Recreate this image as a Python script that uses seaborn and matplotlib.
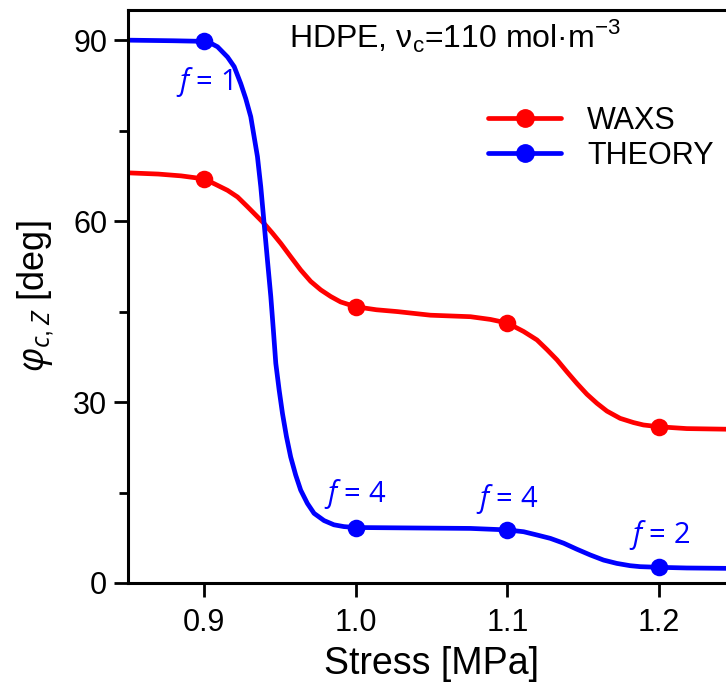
import matplotlib
matplotlib.use("Agg")
import matplotlib.pyplot as plt
import seaborn as sns
from matplotlib.lines import Line2D
from matplotlib.ticker import MultipleLocator

# ---- data ----
stress_pts = [0.9, 1.0, 1.1, 1.2]
waxs_pts = [67.0, 45.8, 43.1, 25.9]
theory_pts = [89.8, 9.2, 8.8, 2.6]
f_labels = ["1", "4", "4", "2"]
f_label_y = [81.7, 13.4, 12.6, 6.6]

waxs_curve_x = [0.850, 0.870, 0.885, 0.900, 0.9068, 0.9156, 0.9222, 0.9287, 0.9342,
                0.9397, 0.9452, 0.9507, 0.9572, 0.9638, 0.9704, 0.9770, 0.9836,
                0.9901, 1.000, 1.0137, 1.0274, 1.0493, 1.0757, 1.0888, 1.100,
                1.1107, 1.1195, 1.1261, 1.1327, 1.1393, 1.1458, 1.1524, 1.1590,
                1.1656, 1.1743, 1.1831, 1.1897, 1.200, 1.2182, 1.2441, 1.250]
waxs_curve_y = [68.0, 67.8, 67.5, 67.0, 66.2, 65.1, 64.0, 62.4, 61.0,
                59.6, 58.0, 56.3, 54.1, 51.9, 50.0, 48.6, 47.5,
                46.6, 45.8, 45.3, 45.0, 44.4, 44.15, 43.7, 43.1,
                41.7, 40.3, 38.7, 37.0, 35.0, 33.1, 31.3, 29.8,
                28.5, 27.3, 26.6, 26.2, 25.9, 25.6, 25.5, 25.45]

theory_curve_x = [0.850, 0.880, 0.900, 0.9045, 0.9090, 0.9156, 0.9200, 0.9243, 0.9276,
                  0.9309, 0.9331, 0.9353, 0.9375, 0.9397, 0.9419, 0.9441, 0.9458,
                  0.9474, 0.9496, 0.9518, 0.9544, 0.9572, 0.9605, 0.9638, 0.9682,
                  0.9726, 0.9792, 0.9857, 0.9923, 1.000, 1.0400, 1.0757, 1.100,
                  1.1107, 1.1195, 1.1283, 1.1371, 1.1458, 1.1546, 1.1634, 1.1721,
                  1.1809, 1.1875, 1.200, 1.2182, 1.2441, 1.250]
theory_curve_y = [90.0, 89.9, 89.8, 89.5, 88.9, 87.2, 85.6, 82.8, 80.3,
                  77.3, 74.0, 70.7, 65.7, 59.6, 53.5, 47.5, 41.9,
                  36.4, 32.0, 28.1, 24.3, 20.9, 17.9, 15.4, 13.2,
                  11.55, 10.35, 9.65, 9.35, 9.2, 9.12, 9.05, 8.8,
                  8.5, 7.96, 7.4, 6.6, 5.6, 4.65, 3.8, 3.25,
                  2.87, 2.71, 2.6, 2.49, 2.43, 2.42]

RED = "#FF0000"
BLUE = "#0000FF"

sns.set_style("ticks")
plt.rcParams["font.family"] = ["Liberation Sans", "DejaVu Sans"]
plt.rcParams["mathtext.fontset"] = "custom"
plt.rcParams["mathtext.rm"] = "Liberation Sans"
plt.rcParams["mathtext.it"] = "Open Sans:italic"
plt.rcParams["text.color"] = "black"
plt.rcParams["axes.labelcolor"] = "black"
plt.rcParams["xtick.color"] = "black"
plt.rcParams["ytick.color"] = "black"
plt.rcParams["lines.solid_capstyle"] = "round"
plt.rcParams["lines.solid_joinstyle"] = "round"

fig = plt.figure(figsize=(7.26, 6.86), dpi=100)
ax = fig.add_axes([128 / 726, 103 / 686, (735 - 128) / 726, (583 - 10) / 686])

lw = 3.4
sns.lineplot(x=waxs_curve_x, y=waxs_curve_y, sort=False, color=RED, lw=lw, ax=ax)
sns.lineplot(x=theory_curve_x, y=theory_curve_y, sort=False, color=BLUE, lw=lw, ax=ax)
sns.scatterplot(x=stress_pts, y=waxs_pts, color=RED, s=160, linewidth=0, ax=ax, zorder=5)
sns.scatterplot(x=stress_pts, y=theory_pts, color=BLUE, s=160, linewidth=0, ax=ax, zorder=5)

ax.set_xlim(0.85, 1.25)
ax.set_ylim(0, 95)
ax.set_xticks([0.9, 1.0, 1.1, 1.2])
ax.set_xticklabels(["0.9", "1.0", "1.1", "1.2"])
ax.set_yticks([0, 30, 60, 90])
ax.yaxis.set_minor_locator(MultipleLocator(15))

for s in ["left", "bottom", "top"]:
    ax.spines[s].set_linewidth(2.2)
    ax.spines[s].set_color("black")
ax.spines["right"].set_visible(False)

ax.tick_params(axis="both", which="major", direction="out", length=10, width=2.0,
               labelsize=22, colors="black")
ax.tick_params(axis="y", which="major", pad=5)
ax.tick_params(axis="x", which="major", pad=8)
ax.tick_params(axis="y", which="minor", direction="out", length=6.5, width=2.0)
ax.tick_params(top=False, right=False)

ax.set_xlabel("Stress [MPa]", fontsize=27, labelpad=6)
ax.set_ylabel(r"$\mathit{\varphi_{c,Z}}$ [deg]", fontsize=26, labelpad=12)

ax.text(0.956, 88.8, r"HDPE, ν$_\mathrm{c}$=110 mol·m$^\mathrm{-3}$", fontsize=23,
        ha="left", va="baseline")

for xv, lab, yv in zip(stress_pts, f_labels, f_label_y):
    ax.text(xv, yv, r"$\mathit{f}$ = " + lab, fontsize=21, color=BLUE,
            ha="center", va="baseline", family=["Open Sans", "DejaVu Sans"])

handles = [Line2D([], [], color=RED, lw=lw, marker="o", ms=12.5),
           Line2D([], [], color=BLUE, lw=lw, marker="o", ms=12.5)]
ax.legend(handles, ["WAXS", "THEORY"], loc="upper left",
          bbox_to_anchor=(488 / 726, 1 - 106 / 686), bbox_transform=fig.transFigure,
          frameon=False, fontsize=22, handlelength=2.4, handletextpad=0.85,
          labelspacing=0.15, borderpad=0, borderaxespad=0)

fig.savefig("out.png", dpi=100)
